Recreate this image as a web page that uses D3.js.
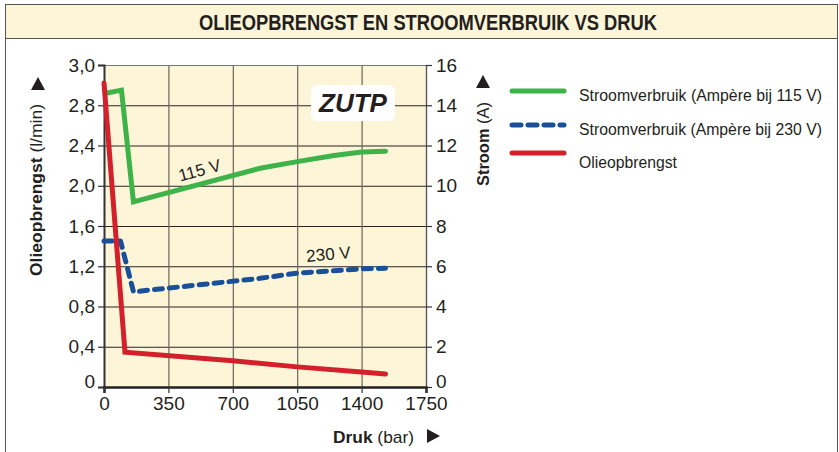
<!DOCTYPE html>
<html>
<head>
<meta charset="utf-8">
<script src="https://cdn.jsdelivr.net/npm/d3@7"></script>
<style>
  body { margin: 0; background: #fff; }
  svg { display: block; font-family: "Liberation Sans", Arial, sans-serif; }
</style>
</head>
<body>
<div id="chart"></div>
<script>
// axis ticks
const pressureTicks = [0, 350, 700, 1050, 1400, 1750];
const oilTicks = [0, 0.4, 0.8, 1.2, 1.6, 2.0, 2.4, 2.8, 3.2];
const oilTickLabels = ['0', '0,4', '0,8', '1,2', '1,6', '2,0', '2,4', '2,8', '3,0'];
const ampTicks = [0, 2, 4, 6, 8, 10, 12, 14, 16];

// Stroomverbruik 115 V (A)
const pressure115 = [10, 95, 160, 848, 1050, 1250, 1400, 1530];
const amp115 = [14.6, 14.75, 9.2, 10.87, 11.2, 11.5, 11.68, 11.72];

// Stroomverbruik 230 V (A)
const pressure230 = [0, 90, 160, 848, 1050, 1400, 1530];
const amp230 = [7.25, 7.25, 4.73, 5.4, 5.66, 5.87, 5.9];

// Olieopbrengst (l/min)
const pressureOil = [0, 114, 700, 1050, 1400, 1530];
const oilFlow = [3.02, 0.345, 0.26, 0.2, 0.15, 0.13];

const legendLabels = ['Stroomverbruik (Ampère bij 115 V)', 'Stroomverbruik (Ampère bij 230 V)', 'Olieopbrengst'];

const W = 839, H = 452;
const plot = { left: 104, right: 426, top: 65, bottom: 387 };
const colors = { green: '#3db34a', blue: '#1a4f9a', red: '#d3202a', bg: '#fcf5d8' };

const svg = d3.select('#chart').append('svg')
  .attr('width', W)
  .attr('height', H);

// frame + title band
svg.append('rect')
  .attr('x', 5.5).attr('y', 4.5)
  .attr('width', 832).attr('height', H)
  .attr('fill', '#fff').attr('stroke', '#555').attr('stroke-width', 1);
svg.append('rect')
  .attr('x', 5.5).attr('y', 4.5)
  .attr('width', 832).attr('height', 34)
  .attr('fill', colors.bg).attr('stroke', '#555').attr('stroke-width', 1);
svg.append('text')
  .attr('x', 428).attr('y', 30)
  .attr('text-anchor', 'middle')
  .attr('font-size', 22).attr('font-weight', 'bold')
  .attr('textLength', 458).attr('lengthAdjust', 'spacingAndGlyphs')
  .attr('fill', '#231f20')
  .text('OLIEOPBRENGST EN STROOMVERBRUIK VS DRUK');

// scales
const x = d3.scaleLinear().domain([0, 1750]).range([plot.left, plot.right]);
const yOil = d3.scaleLinear().domain([0, 3.2]).range([plot.bottom, plot.top]);
const yAmp = d3.scaleLinear().domain([0, 16]).range([plot.bottom, plot.top]);

// plot background
svg.append('rect')
  .attr('x', plot.left).attr('y', plot.top)
  .attr('width', plot.right - plot.left).attr('height', plot.bottom - plot.top)
  .attr('fill', colors.bg);

// gridlines
svg.append('g').selectAll('line')
  .data(ampTicks.slice(1, -1))
  .join('line')
  .attr('x1', plot.left).attr('x2', plot.right)
  .attr('y1', d => yAmp(d) + 0.5).attr('y2', d => yAmp(d) + 0.5)
  .attr('stroke', '#2a2420').attr('stroke-width', 1.2);
svg.append('g').selectAll('line')
  .data(pressureTicks.slice(1, -1))
  .join('line')
  .attr('x1', d => x(d) + 0.5).attr('x2', d => x(d) + 0.5)
  .attr('y1', plot.top).attr('y2', plot.bottom)
  .attr('stroke', '#6e655a').attr('stroke-width', 1.2);
// top + right border
svg.append('path')
  .attr('d', `M${plot.left},${plot.top + 0.5}H${plot.right + 0.5}V${plot.bottom}`)
  .attr('fill', 'none').attr('stroke', '#777').attr('stroke-width', 1.2);

// axes
const tickFont = g => g.selectAll('text')
  .attr('font-size', 19).attr('fill', '#231f20')
  .attr('font-family', '"Liberation Sans", Arial, sans-serif');

const leftAxis = svg.append('g')
  .attr('transform', `translate(${plot.left},0)`)
  .call(d3.axisLeft(yOil).tickValues(oilTicks)
    .tickFormat((d, i) => oilTickLabels[i]).tickSize(6).tickPadding(3))
  .call(tickFont);
leftAxis.select('.domain').attr('stroke', '#333').attr('stroke-width', 2);
leftAxis.selectAll('.tick line').attr('stroke', '#333').attr('stroke-width', 1.2);

const rightAxis = svg.append('g')
  .attr('transform', `translate(${plot.right},0)`)
  .call(d3.axisRight(yAmp).tickValues(ampTicks).tickFormat(d3.format('d'))
    .tickSize(6).tickPadding(4))
  .call(tickFont);
rightAxis.select('.domain').attr('stroke', '#555').attr('stroke-width', 1.2);
rightAxis.selectAll('.tick line').attr('stroke', '#333').attr('stroke-width', 1.2);

// the zero labels sit a little above their tick in the original
leftAxis.selectAll('.tick text').filter(d => d === 0).attr('y', -6);
rightAxis.selectAll('.tick text').filter(d => d === 0).attr('y', -6);

const bottomAxis = svg.append('g')
  .attr('transform', `translate(0,${plot.bottom})`)
  .call(d3.axisBottom(x).tickValues(pressureTicks).tickFormat(d3.format('d'))
    .tickSize(6).tickPadding(4))
  .call(tickFont);
bottomAxis.select('.domain').attr('stroke', '#222').attr('stroke-width', 2.5);
bottomAxis.selectAll('.tick line').attr('stroke', '#333').attr('stroke-width', 1.2);

// axis titles
const leftTitle = svg.append('text')
  .attr('transform', 'translate(42,276) rotate(-90)')
  .attr('font-size', 16).attr('fill', '#231f20')
  .attr('textLength', 172).attr('lengthAdjust', 'spacingAndGlyphs');
leftTitle.append('tspan').attr('font-weight', 'bold').text('Olieopbrengst');
leftTitle.append('tspan').text(' (l/min)');
svg.append('path')
  .attr('d', 'M31,90 L45,90 L38,77 Z').attr('fill', '#231f20');

const rightTitle = svg.append('text')
  .attr('transform', 'translate(489,186) rotate(-90)')
  .attr('font-size', 16).attr('fill', '#231f20')
  .attr('textLength', 84).attr('lengthAdjust', 'spacingAndGlyphs');
rightTitle.append('tspan').attr('font-weight', 'bold').text('Stroom');
rightTitle.append('tspan').text(' (A)');
svg.append('path')
  .attr('d', 'M476,88 L490,88 L483,75 Z').attr('fill', '#231f20');

const bottomTitle = svg.append('text')
  .attr('x', 333).attr('y', 443)
  .attr('font-size', 17).attr('fill', '#231f20')
  .attr('textLength', 81).attr('lengthAdjust', 'spacingAndGlyphs');
bottomTitle.append('tspan').attr('font-weight', 'bold').text('Druk');
bottomTitle.append('tspan').text(' (bar)');
svg.append('path')
  .attr('d', 'M427,429 L427,443 L440,436 Z').attr('fill', '#231f20');

// series
const line = (xs, ys, yScale) => d3.line()
  .x((d, i) => x(xs[i]))
  .y(d => yScale(d))(ys);

svg.append('path')
  .attr('d', line(pressure115, amp115, yAmp))
  .attr('fill', 'none').attr('stroke', colors.green)
  .attr('stroke-width', 5).attr('stroke-linejoin', 'miter').attr('stroke-linecap', 'round');

svg.append('path')
  .attr('d', line(pressure230, amp230, yAmp))
  .attr('fill', 'none').attr('stroke', colors.blue)
  .attr('stroke-width', 5).attr('stroke-dasharray', '8,7')
  .attr('stroke-linejoin', 'round').attr('stroke-linecap', 'round');

svg.append('path')
  .attr('d', line(pressureOil, oilFlow, yOil))
  .attr('fill', 'none').attr('stroke', colors.red)
  .attr('stroke-width', 5).attr('stroke-linejoin', 'miter').attr('stroke-linecap', 'round');

// line labels
svg.append('text')
  .attr('transform', 'translate(201,176) rotate(-15)')
  .attr('text-anchor', 'middle')
  .attr('font-size', 17).attr('fill', '#231f20')
  .text('115 V');
svg.append('text')
  .attr('transform', 'translate(329,260) rotate(-5)')
  .attr('text-anchor', 'middle')
  .attr('font-size', 17).attr('fill', '#231f20')
  .text('230 V');

// ZUTP badge
svg.append('rect')
  .attr('x', 311).attr('y', 85)
  .attr('width', 84).attr('height', 36).attr('rx', 6)
  .attr('fill', '#fff');
svg.append('text')
  .attr('x', 353).attr('y', 112)
  .attr('text-anchor', 'middle')
  .attr('font-size', 26).attr('font-weight', 'bold').attr('font-style', 'italic')
  .attr('fill', '#231f20')
  .text('ZUTP');

// legend
const legendY = [91, 125, 153];
const legendStyle = [
  { color: colors.green, dash: null },
  { color: colors.blue, dash: '9,7' },
  { color: colors.red, dash: null }
];
const legendWidths = [243, 243, 98];
const legend = svg.append('g').selectAll('g')
  .data(legendLabels)
  .join('g')
  .attr('transform', (d, i) => `translate(0,${legendY[i]})`);
legend.append('line')
  .attr('x1', 512).attr('x2', 564)
  .attr('stroke', (d, i) => legendStyle[i].color)
  .attr('stroke-width', 5)
  .attr('stroke-linecap', 'round')
  .attr('stroke-dasharray', (d, i) => legendStyle[i].dash);
legend.append('text')
  .attr('x', 579).attr('y', (d, i) => i === 2 ? 15 : 10)
  .attr('font-size', 16).attr('fill', '#231f20')
  .attr('textLength', (d, i) => legendWidths[i]).attr('lengthAdjust', 'spacingAndGlyphs')
  .text(d => d);
</script>
</body>
</html>
